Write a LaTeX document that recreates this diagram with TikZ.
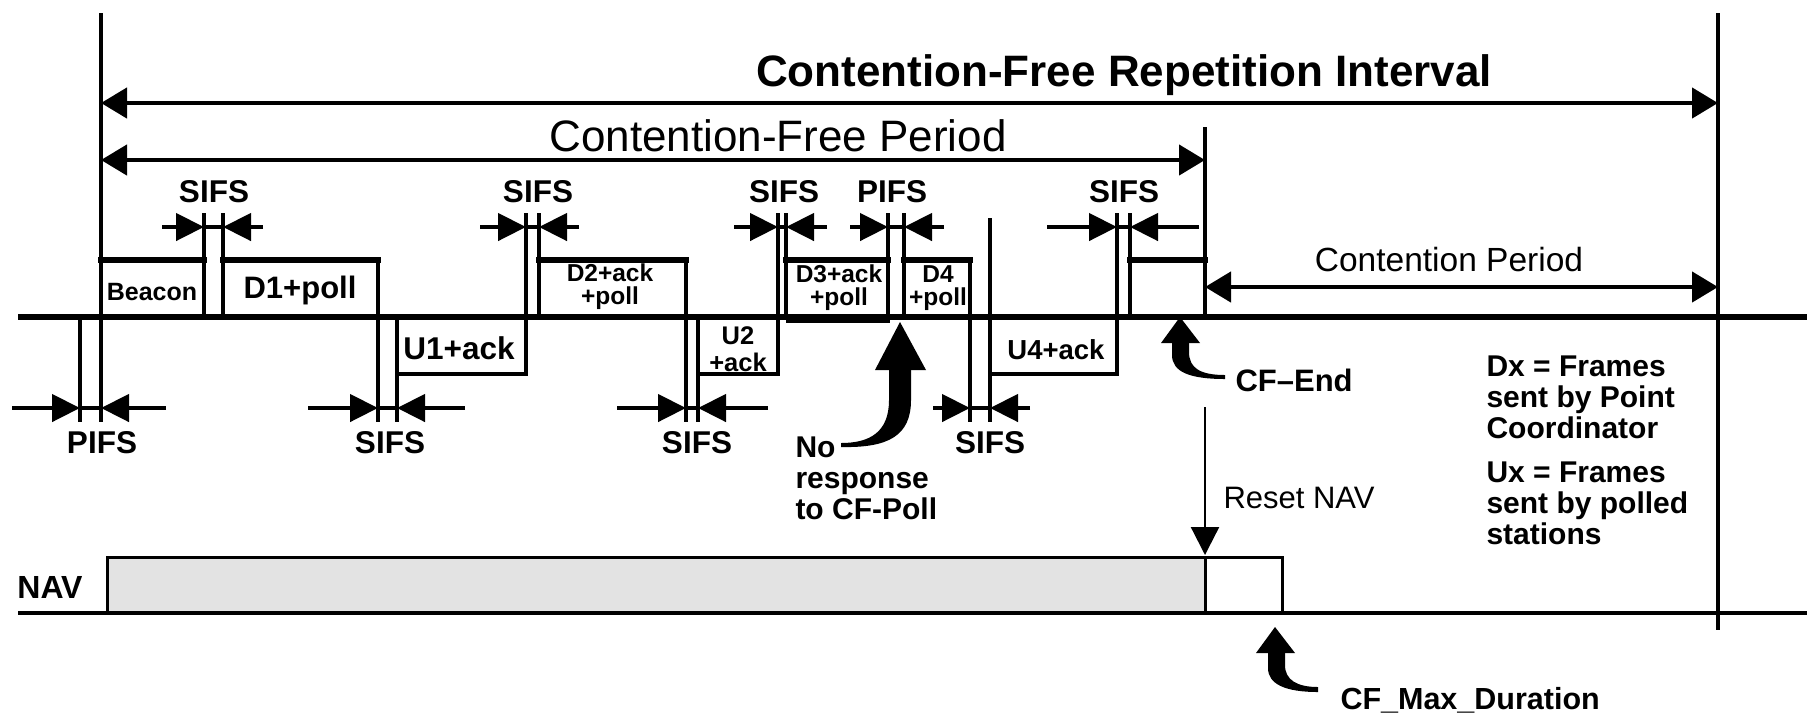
\documentclass[tikz,border=0pt]{standalone}
\usepackage{fontspec}
\setmainfont{Liberation Sans}
\usetikzlibrary{arrows.meta}
\begin{document}
\begin{tikzpicture}[x=0.4pt,y=-0.4pt,
  vl/.style={line width=1.6pt},
  tl/.style={line width=2.4pt,line cap=rect},
  bl/.style={line width=1.6pt,line cap=rect},
  dimln/.style={line width=1.8pt},
  htip/.style={-{Triangle[length=11.2pt,width=10.8pt]}},
  bitip/.style={{Triangle[length=10.4pt,width=12pt]}-{Triangle[length=10.4pt,width=12pt]}},
  tb/.style={inner sep=0pt,font=\fontsize{#1}{12.4}\selectfont\bfseries},
  tr/.style={inner sep=0pt,font=\fontsize{#1}{12.4}\selectfont},
  two/.style={inner sep=0pt,align=center,font=\fontsize{9.8}{9.2}\selectfont\bfseries},
  blk/.style={inner sep=0pt,align=left,anchor=west,font=\fontsize{12}{12.4}\selectfont\bfseries}
]
\useasboundingbox (0,0) rectangle (1807,716);
\fill[white] (0,0) rectangle (1807,716);

% ---- NAV row
\draw[line width=1.2pt,fill=black!11] (107,613) rectangle (1205,557);
\draw[line width=1.2pt] (1205,557) rectangle (1282,613);
\coordinate (n0) at (18,613); \coordinate (n1) at (1807,613);
\draw[line width=1.8pt] (n0) -- (n1);
\node[tb=12.8] (nav) at (50,587) {NAV};

% ---- main time line
\coordinate (b0) at (18,317); \coordinate (b1) at (1807,317);
\draw[line width=2.4pt] (b0) -- (b1);
\draw[line width=2.4pt] (786,320) -- (890,320);

% vertical edges
\foreach \x/\ya/\yb in {101/13/422, 204/213/317, 223/213/317, 378/260/422,
  397/317/422, 526/213/374, 539/213/317, 686/260/422, 698/317/422,
  778/213/374, 786/213/317, 888/213/317, 904/213/317, 970/260/422,
  990/218/422, 1117/213/374, 1130/213/317, 1205/127/317, 1718/13/630,
  80/317/422}
  \draw[vl] (\x,\ya) -- (\x,\yb);

% frame tops (above line) and bottoms (below line)
\foreach \xa/\xb in {101/204, 223/378, 539/686, 786/888, 904/970, 1130/1205}
  \draw[tl] (\xa,260) -- (\xb,260);
\foreach \xa/\xb in {397/526, 698/778, 990/1117}
  \draw[bl] (\xa,374) -- (\xb,374);

% ---- long interval arrows
\coordinate (r0) at (101,103); \coordinate (r1) at (1718,103);
\draw[dimln,bitip] (r0) -- (r1);
\node[tb=17.6] (cfri) at (1124,75) {Contention-Free Repetition Interval};
\coordinate (p0) at (101,160); \coordinate (p1) at (1205,160);
\draw[dimln,bitip] (p0) -- (p1);
\node[tr=17.6] (cfp) at (778,136) {Contention-Free Period};
\coordinate (c0) at (1205,287); \coordinate (c1) at (1718,287);
\draw[dimln,bitip] (c0) -- (c1);
\node[tr=13.4] (cp) at (1449,260) {Contention Period};

% ---- gap markers above the line
\foreach \a/\b/\l/\r/\t/\c in {204/223/162/263/SIFS/214, 526/539/480/579/SIFS/538,
  778/786/734/827/SIFS/784, 888/904/850/944/PIFS/892, 1117/1130/1047/1199/SIFS/1124}{
  \draw[dimln,htip] (\l,227) -- (\a,227);
  \draw[dimln,htip] (\r,227) -- (\b,227);
  \draw[dimln] (\a,227) -- (\b,227);
  \node[tb=12.6] (gu\c) at (\c,192) {\t};
}
% ---- gap markers below the line
\foreach \a/\b/\l/\r/\t/\c in {80/101/12/166/PIFS/102, 378/397/308/465/SIFS/390,
  686/698/617/768/SIFS/697, 970/990/933/1030/SIFS/990}{
  \draw[dimln,htip] (\l,408) -- (\a,408);
  \draw[dimln,htip] (\r,408) -- (\b,408);
  \draw[dimln] (\a,408) -- (\b,408);
  \node[tb=12.6] (gl\c) at (\c,443) {\t};
}

% ---- frame labels
\node[tb=10] (beacon) at (152,292) {Beacon};
\node[tb=12.4] (d1) at (300,290) {D1+poll};
\node[two] (d2) at (610,287) {D2+ack\\+poll};
\node[two] (d3) at (839,288) {D3+ack\\+poll};
\node[two] (d4) at (938,288) {D4\\+poll};
\node[tb=12.6] (u1) at (459,348) {U1+ack};
\node[two,font=\fontsize{10.2}{10.6}\selectfont\bfseries] (u2) at (738,349) {U2\\+ack};
\node[tb=11] (u4) at (1056,350) {U4+ack};

% ---- curved pointer arrows
\fill (900,322) -- (926,370) -- (875,370) -- cycle;
\fill (889,369) -- (889,400) .. controls (889,432) and (870,443) .. (841,443)
  -- (841,447) .. controls (888,448) and (911,436) .. (911,400) -- (911,369) -- cycle;
\node[blk] (nores) at (795,478) {No\\response\\to CF-Poll};

\fill (1180,317) -- (1200,343) -- (1161,343) -- cycle;
\fill (1172,342) -- (1172,355) .. controls (1172,372) and (1190,379) .. (1225,379)
  -- (1225,375) .. controls (1200,375) and (1189,368) .. (1189,352) -- (1189,342) -- cycle;
\node[tb=12.4,anchor=west] (cfend) at (1235,380) {CF–End};

\fill (1275,627) -- (1295,653) -- (1256,653) -- cycle;
\fill (1268,652) -- (1268,668) .. controls (1268,684) and (1285,692) .. (1318,692)
  -- (1318,687) .. controls (1297,687) and (1285,680) .. (1285,665) -- (1285,652) -- cycle;
\node[tb=12.2,anchor=west] (cfmax) at (1340,700) {CF\_Max\_Duration};

% ---- reset NAV
\coordinate (rn0) at (1205,407); \coordinate (rn1) at (1205,555);
\draw[line width=0.9pt,-{Triangle[length=11.2pt,width=11.2pt]}] (rn0) -- (rn1);
\node[tr=12.4,anchor=west] (reset) at (1223,498) {Reset NAV};

% ---- legend
\node[blk] (dx) at (1486,397) {Dx = Frames\\sent by Point\\Coordinator};
\node[blk] (ux) at (1486,503) {Ux = Frames\\sent by polled\\stations};
\end{tikzpicture}
\end{document}
